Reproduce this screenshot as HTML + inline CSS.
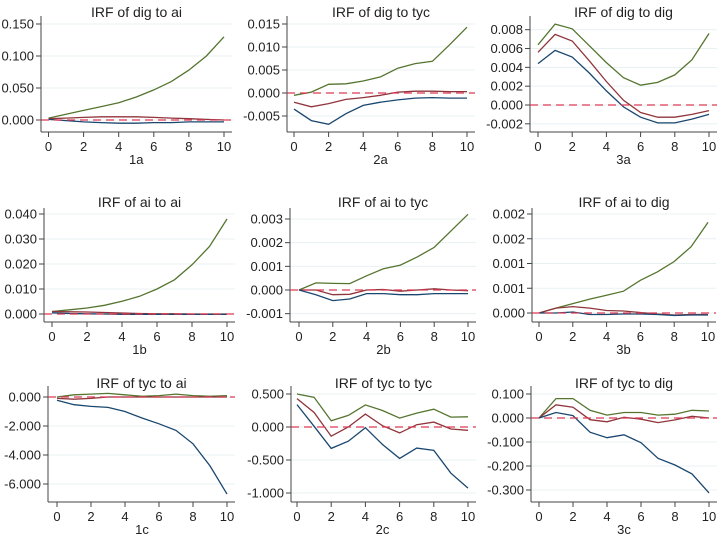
<!DOCTYPE html>
<html><head><meta charset="utf-8"><style>
html,body{margin:0;padding:0;background:#fff;}
svg{display:block;font-family:"Liberation Sans",Arial,sans-serif;}
</style></head><body>
<svg id="chart" width="719" height="535" viewBox="0 0 719 535"></svg>
<script>
const steps = [0,1,2,3,4,5,6,7,8,9,10];
const xTicks = [0,2,4,6,8,10];
const titles = ["IRF of dig to ai","IRF of dig to tyc","IRF of dig to dig","IRF of ai to ai","IRF of ai to tyc","IRF of ai to dig","IRF of tyc to ai","IRF of tyc to tyc","IRF of tyc to dig"];
const panelLabels = ["1a","2a","3a","1b","2b","3b","1c","2c","3c"];
const yTickVals = [
 [0,0.05,0.1,0.15],[-0.005,0,0.005,0.01,0.015],[-0.002,0,0.002,0.004,0.006,0.008],
 [0,0.01,0.02,0.03,0.04],[-0.001,0,0.001,0.002,0.003],[0,0.0005,0.001,0.0015,0.002],
 [-6,-4,-2,0],[-1,-0.5,0,0.5],[-0.3,-0.2,-0.1,0,0.1]];
const yTickLabels = [
 ["0.000","0.050","0.100","0.150"],["-0.005","0.000","0.005","0.010","0.015"],["-0.002","0.000","0.002","0.004","0.006","0.008"],
 ["0.000","0.010","0.020","0.030","0.040"],["-0.001","0.000","0.001","0.002","0.003"],["0.000","0.001","0.001","0.002","0.002"],
 ["-6.000","-4.000","-2.000","0.000"],["-1.000","-0.500","0.000","0.500"],["-0.300","-0.200","-0.100","0.000","0.100"]];
const greenSeries = [
 [0.003,0.009,0.015,0.021,0.027,0.036,0.047,0.060,0.078,0.100,0.130],
 [-0.0005,0.0002,0.0019,0.002,0.0026,0.0035,0.0054,0.0064,0.0069,0.0105,0.0143],
 [0.0064,0.0086,0.0081,0.0063,0.0045,0.0029,0.0021,0.0024,0.0032,0.0048,0.0076],
 [0.001,0.0017,0.0024,0.0035,0.0051,0.0071,0.010,0.0137,0.0197,0.027,0.038],
 [0,0.0003,0.00028,0.00027,0.0006,0.0009,0.00105,0.0014,0.0018,0.0025,0.0032],
 [0,0.0001,0.00019,0.00028,0.00036,0.00044,0.00066,0.00083,0.00104,0.00134,0.00183],
 [0,0.15,0.2,0.25,0.15,0.05,0.1,0.2,0.1,0.05,0.1],
 [0.5,0.45,0.095,0.175,0.335,0.25,0.135,0.21,0.27,0.15,0.155],
 [0,0.081,0.081,0.032,0.012,0.023,0.023,0.012,0.016,0.032,0.029]];
const redSeries = [
 [0.002,0.003,0.004,0.005,0.005,0.005,0.004,0.003,0.002,0.001,0.000],
 [-0.002,-0.003,-0.0023,-0.0014,-0.001,-0.0005,0.0002,0.0004,0.0004,0.0003,0.0003],
 [0.0056,0.0075,0.0068,0.0047,0.0025,0.0005,-0.0008,-0.0013,-0.0013,-0.001,-0.0006],
 [0.001,0.0009,0.0008,0.0006,0.0004,0.0002,0.0001,0.0001,0,0,0],
 [0,0,-0.0002,-0.00018,0,0.00002,-0.00005,0,0.00005,0,-0.00003],
 [0,0.0001,0.00013,0.0001,0.00005,0.00004,0.00001,-0.00002,-0.00004,-0.00003,-0.00003],
 [-0.1,-0.15,-0.1,0,0,0,0,0,0,0,0],
 [0.43,0.22,-0.14,0,0.195,0.02,-0.09,0.035,0.075,-0.03,-0.05],
 [0,0.055,0.045,-0.007,-0.016,0.003,-0.005,-0.019,-0.008,0.007,0]];
const blueSeries = [
 [0.001,-0.001,-0.003,-0.004,-0.005,-0.005,-0.004,-0.004,-0.003,-0.003,-0.003],
 [-0.0035,-0.006,-0.0068,-0.0045,-0.0027,-0.002,-0.0015,-0.0011,-0.001,-0.0011,-0.0011],
 [0.0044,0.0058,0.0051,0.0034,0.0015,-0.0002,-0.0013,-0.0019,-0.0019,-0.0015,-0.001],
 [0.0005,0.0002,0.0001,0,-0.0001,-0.0001,-0.0001,-0.0001,-0.0001,-0.0001,-0.0001],
 [0,-0.0002,-0.00045,-0.00038,-0.00015,-0.00015,-0.0002,-0.0002,-0.00015,-0.00015,-0.00015],
 [0,0,0.00002,-0.00003,-0.00003,-0.00002,-0.00002,-0.00003,-0.00005,-0.00004,-0.00004],
 [-0.23,-0.53,-0.65,-0.72,-1.0,-1.45,-1.85,-2.3,-3.23,-4.75,-6.7],
 [0.34,0.01,-0.325,-0.215,-0.01,-0.265,-0.475,-0.32,-0.355,-0.7,-0.925],
 [0,0.023,0.01,-0.059,-0.082,-0.07,-0.103,-0.168,-0.196,-0.233,-0.312]];

// layout (pixel geometry per panel): axisX, x0px, x10px, top, bottom, calibration v1->p1, v2->p2, titleY
const layout = [
 [41,48.5,224,16,132, 0,120,0.15,24, 12],
 [287,294,467,16,132, 0,93,0.015,24, 12],
 [530,538,709,16,132, 0,105,0.008,29.7, 12],
 [44,52,227,208,322, 0,314,0.04,214, 202],
 [290,299,468,208,322, 0,290,0.003,219, 202],
 [532,539,708,208,322, 0,313,0.002,214, 202],
 [48,57,227,386,502, 0,397,-6,484, 383],
 [291,297,468,386,502, 0,427,0.5,394, 383],
 [531,539,709,386,502, 0,418,0.1,394, 383]];

const svg = document.getElementById('chart');
const NS = 'http://www.w3.org/2000/svg';
function mk(tag, attrs, parent){
  const e = document.createElementNS(NS, tag);
  for (const k in attrs) e.setAttribute(k, attrs[k]);
  parent.appendChild(e); return e;
}
const colors = {green:'#55752f', red:'#90353b', blue:'#1a476f'};
for (let i=0;i<9;i++){
  const L = layout[i];
  const [ax,x0,x10,top,bot,v1,p1,v2,p2,ty] = L;
  const right = x10 + 8;
  const xs = s => x0 + (x10-x0)*s/10;
  const ys = v => p1 + (v - v1)*(p2-p1)/(v2-v1);
  const g = mk('g',{},svg);
  
  
  const t = mk('text',{x:(ax+right)/2, y:ty+5, 'text-anchor':'middle','font-size':'14', fill:'#222'},g);
  t.textContent = titles[i];
  
  
  // grid + y ticks
  yTickVals[i].forEach((v,k)=>{
    const y = ys(v);
    const gl = mk('line',{x1:ax,x2:right,y1:y,y2:y,stroke:'#e8f0f2','stroke-width':1},g);
    
    
    mk('line',{x1:ax-5,x2:ax,y1:y,y2:y,stroke:'#444','stroke-width':1},g);
    const lb = mk('text',{x:ax-7,y:y+4.5,'text-anchor':'end','font-size':'13',fill:'#222'},g);
    lb.textContent = yTickLabels[i][k];
    
    
  });
  // axes
  const ya = mk('line',{x1:ax,x2:ax,y1:top,y2:bot,stroke:'#444','stroke-width':1},g);
  
  
  const xa = mk('line',{x1:ax,x2:right,y1:bot,y2:bot,stroke:'#444','stroke-width':1},g);
  
  
  xTicks.forEach(s=>{
    const x = xs(s);
    mk('line',{x1:x,x2:x,y1:bot,y2:bot+5,stroke:'#444','stroke-width':1},g);
    const lb = mk('text',{x:x,y:bot+19,'text-anchor':'middle','font-size':'13',fill:'#222'},g);
    lb.textContent = s;
    
    
  });
  const xl = mk('text',{x:(x0+x10)/2,y:bot+32,'text-anchor':'middle','font-size':'13',fill:'#222'},g);
  xl.textContent = panelLabels[i];
  
  
  // series
  [['green',greenSeries],['red',redSeries],['blue',blueSeries]].forEach(([c,arr])=>{
    const pts = steps.map((s,j)=>xs(s).toFixed(1)+','+ys(arr[i][j]).toFixed(1)).join(' ');
    const pl = mk('polyline',{points:pts,fill:'none',stroke:colors[c],'stroke-width':1.3},g);
    
    
  });
  const zy = ys(0);
  const zl = mk('line',{x1:ax,x2:right,y1:zy,y2:zy,stroke:'#d93a55','stroke-width':1.3,'stroke-dasharray':'8,5'},g);
  
  
}
</script>
</body></html>
